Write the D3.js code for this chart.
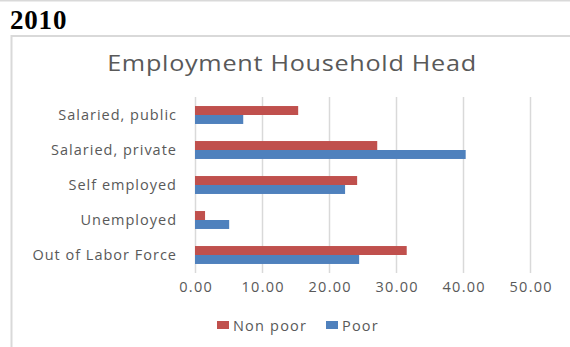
<!DOCTYPE html>
<html>
<head>
<meta charset="utf-8">
<script src="https://cdn.jsdelivr.net/npm/d3@7"></script>
<style>
  html, body { margin: 0; padding: 0; background: #fff; }
  svg { display: block; }
</style>
</head>
<body>
<svg id="chart" width="570" height="347"></svg>
<script>
// Employment status of household head, 2010 (% of households)
const categories = ["Salaried, public", "Salaried, private", "Self employed", "Unemployed", "Out of Labor Force"];
const seriesNames = ["Non poor", "Poor"];
const nonPoor = [15.4, 27.2, 24.2, 1.5, 31.6];
const poor = [7.2, 40.4, 22.4, 5.1, 24.5];
const xTicks = [0, 10, 20, 30, 40, 50];
const colors = ["#c0504d", "#4f81bd"];

const svg = d3.select("#chart");
const uiFont = "'Open Sans', 'Noto Sans', sans-serif";

// page frame lines
svg.append("line").attr("x1", 0).attr("x2", 570).attr("y1", 0.5).attr("y2", 0.5)
  .attr("stroke", "#d9d9d9").attr("stroke-width", 2);
svg.append("text").attr("x", 10).attr("y", 29)
  .attr("font-family", "'Liberation Serif', 'Times New Roman', serif")
  .attr("font-weight", "bold").attr("font-size", 27).attr("letter-spacing", 0.8).attr("fill", "#000")
  .text("2010");

// chart area border
svg.append("path").attr("d", "M11.5,347 V36 H570")
  .attr("fill", "none").attr("stroke", "#d9d9d9").attr("stroke-width", 2);

// chart title, set in a wide face
svg.append("g").attr("transform", "translate(292,71) scale(1.2,1)")
  .append("text").attr("text-anchor", "middle")
  .attr("font-family", uiFont).attr("font-size", 21).attr("letter-spacing", 0.6).attr("fill", "#595959")
  .text("Employment Household Head");

const x = d3.scaleLinear().domain([0, 50]).range([195, 530]);
const y = d3.scaleBand().domain(categories).range([97.5, 272.5]).paddingInner(0).paddingOuter(0);
const inner = d3.scaleBand().domain(seriesNames).range([0, y.bandwidth()]).paddingOuter(0.95).paddingInner(0);

// vertical gridlines
svg.append("g").selectAll("line").data(xTicks).join("line")
  .attr("x1", d => Math.round(x(d)) + 0.5).attr("x2", d => Math.round(x(d)) + 0.5)
  .attr("y1", 97).attr("y2", 273)
  .attr("stroke", "#d9d9d9").attr("stroke-width", 1.5);

// bars
const series = [nonPoor, poor];
const groups = svg.append("g").selectAll("g").data(categories).join("g")
  .attr("transform", d => `translate(0,${y(d)})`);
groups.selectAll("rect")
  .data((d, i) => seriesNames.map((s, k) => ({ s, v: series[k][i], k })))
  .join("rect")
  .attr("x", x(0))
  .attr("y", d => inner(d.s))
  .attr("width", d => x(d.v) - x(0))
  .attr("height", inner.bandwidth())
  .attr("fill", d => colors[d.k]);

// category axis labels
const yAxis = d3.axisLeft(y).tickSize(0).tickPadding(0);
const yg = svg.append("g").attr("transform", "translate(177,0)").call(yAxis);
yg.select(".domain").remove();
yg.selectAll("text").attr("font-family", uiFont).attr("font-size", 14.5)
  .attr("letter-spacing", 1).attr("fill", "#595959");

// value axis labels
const xAxis = d3.axisBottom(x).tickValues(xTicks).tickFormat(d3.format(".2f")).tickSize(0).tickPadding(0);
const xg = svg.append("g").attr("transform", "translate(0,282)").call(xAxis);
xg.select(".domain").remove();
xg.selectAll("text").attr("font-family", uiFont).attr("font-size", 14.5)
  .attr("letter-spacing", 1.3).attr("dx", 0.7).attr("fill", "#595959");

// legend
const legendX = [217, 326];
const lg = svg.append("g").selectAll("g").data(seriesNames).join("g")
  .attr("transform", (d, i) => `translate(${legendX[i]},321)`);
lg.append("rect").attr("width", 12).attr("height", 8).attr("fill", (d, i) => colors[i]);
lg.append("text").attr("x", 16).attr("y", 9.5).attr("font-family", uiFont)
  .attr("font-size", 14.5).attr("letter-spacing", 1.2).attr("fill", "#595959").text(d => d);
</script>
</body>
</html>
